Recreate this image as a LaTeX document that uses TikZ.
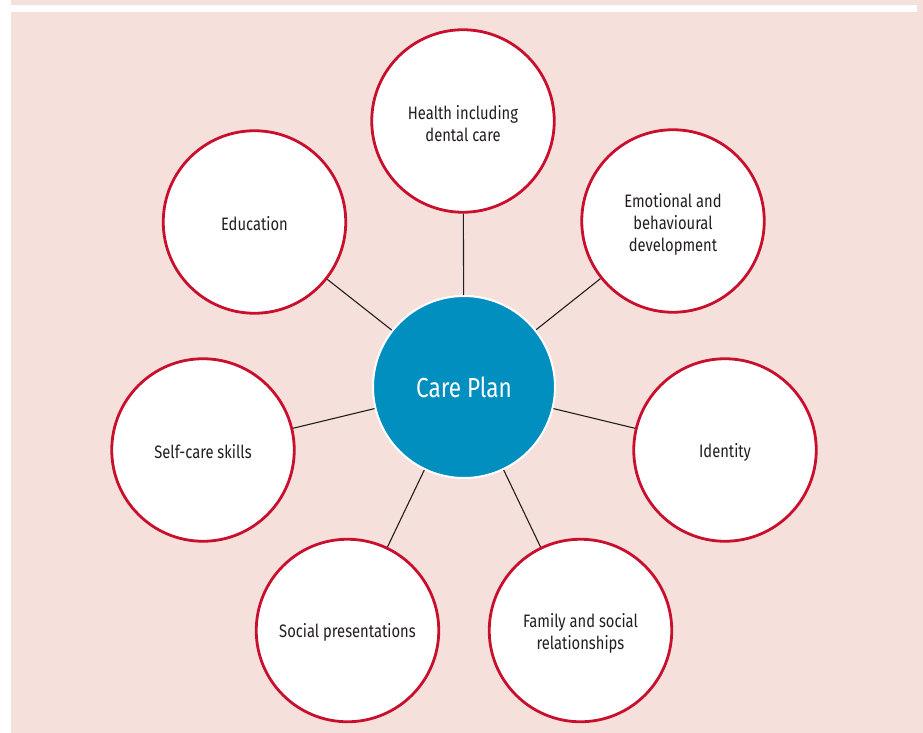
\documentclass[tikz,border=0pt]{standalone}
\usepackage{fontspec}
\setmainfont{Fira Sans}[FakeStretch=0.82]
\definecolor{panelpink}{RGB}{245,224,220}
\definecolor{ringred}{RGB}{200,16,46}
\definecolor{planblue}{RGB}{0,143,190}
\definecolor{textgray}{RGB}{35,31,32}
\tikzset{
  topic/.style={circle, draw=ringred, line width=2.8pt, fill=white, inner sep=0pt,
    minimum size=182.5pt},
  topictext/.style={align=center, text=textgray, inner sep=0pt,
    font=\fontsize{18}{22}\selectfont},
  hub/.style={circle, draw=white, line width=2pt, fill=planblue, inner sep=0pt,
    minimum size=182pt, text=white, font=\fontsize{27.5}{30}\selectfont},
  link/.style={draw=textgray, line width=1.1pt}
}
\begin{document}
\begin{tikzpicture}[x=1pt,y=-1pt]
\useasboundingbox (0,0) rectangle (923,733);
\fill[panelpink] (11,0) rectangle (923,733);
\fill[white] (11,5) rectangle (917,12);
\node[hub] (c) at (464,387) {Care Plan};
\node[topic] (h) at (463,121) {};
\node[topic] (e) at (673,221) {};
\node[topic] (i) at (725,450) {};
\node[topic] (f) at (580.5,630.5) {};
\node[topic] (p) at (347.5,630.5) {};
\node[topic] (s) at (203,450) {};
\node[topic] (d) at (254.5,222) {};
\node[topictext] (ht) at ([yshift=-3pt]h.center) {Health including\\dental care};
\node[topictext] (et) at ([yshift=-3pt]e.center) {Emotional and\\behavioural\\development};
\node[topictext] (it) at ([yshift=-2pt]i.center) {Identity};
\node[topictext] (ft) at ([yshift=-3pt]f.center) {Family and social\\relationships};
\node[topictext] (pt) at ([yshift=-2pt]p.center) {Social presentations};
\node[topictext] (st) at ([yshift=-2pt]s.center) {Self-care skills};
\node[topictext] (dt) at ([yshift=-2pt]d.center) {Education};
\foreach \n in {h,e,i,f,p,s,d} \draw[link] (c) -- (\n);
\end{tikzpicture}
\end{document}
